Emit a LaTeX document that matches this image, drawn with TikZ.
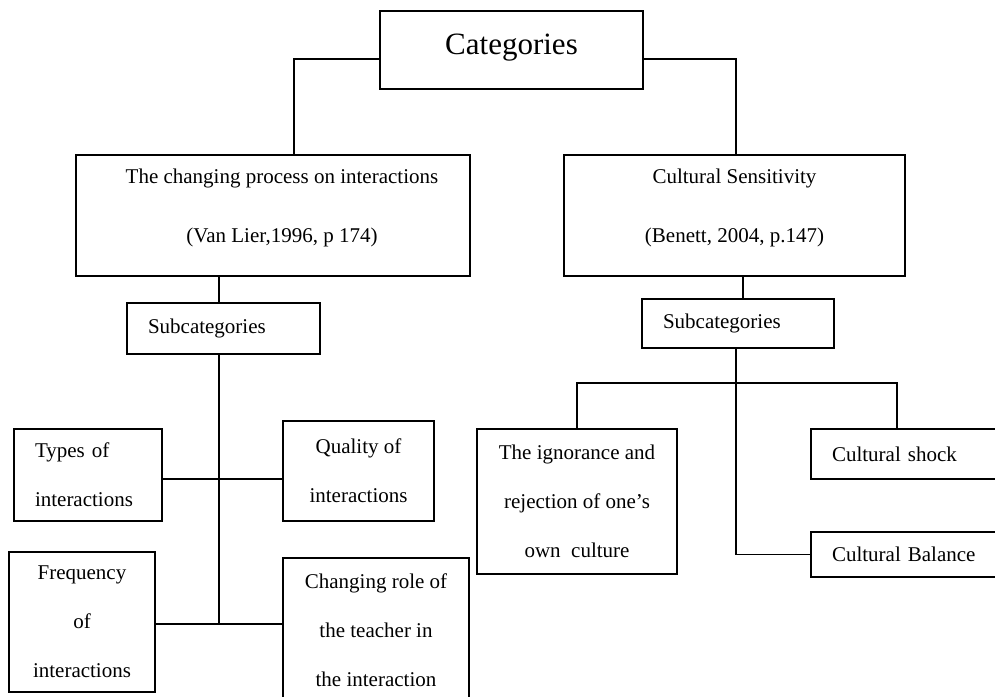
\documentclass[tikz,border=0pt]{standalone}
\usepackage{fontspec}
\setmainfont{Liberation Serif}

\begin{document}
\begin{tikzpicture}[x=1pt, y=-1pt, line width=1.6pt,
    box/.style={draw, inner sep=0pt, align=center, font=\fontsize{21}{49}\selectfont},
    leftbox/.style={draw, inner ysep=0pt, inner xsep=21pt, align=left, font=\fontsize{21}{49}\selectfont}]
  \useasboundingbox (0,0) rectangle (995,696);
  \clip (0,0) rectangle (995,696);
  % categories
  \node[box, minimum width=263pt, minimum height=78pt, text depth=12pt, font=\fontsize{31}{37}\selectfont] (cat) at (511.5,50) {Categories};
  \coordinate (catL) at ([yshift=-9pt]cat.west);
  \coordinate (catR) at ([yshift=-9pt]cat.east);
  % two main categories
  \node[box, minimum width=394pt, minimum height=121pt, text depth=19pt, font=\fontsize{21}{59}\selectfont] (proc) at (273,215.5)
        {\hspace*{18pt}The changing process on interactions\\\hspace*{18pt}(Van Lier,1996, p 174)};
  \node[box, minimum width=341pt, minimum height=121pt, text depth=19pt, font=\fontsize{21}{59}\selectfont] (sens) at (734.5,215.5)
        {Cultural Sensitivity\\(Benett, 2004, p.147)};
  \draw (catL) -| ([xshift=21pt]proc.north);
  \draw (catR) -| ([xshift=1.5pt]sens.north);
  % left subcategories
  \node[leftbox, text width=151pt, minimum height=51pt] (subL) at (223.5,328.5) {Subcategories};
  \coordinate (spineA) at (219,479);
  \coordinate (spineB) at (219,624);
  \draw (proc.south -| spineA) -- (subL.north -| spineA);
  \draw (subL.south -| spineA) -- (spineB);
  \node[leftbox, text width=106pt, minimum height=92pt] (types) at (88,475) {Types of\\interactions};
  \node[box, minimum width=151pt, minimum height=100pt] (quality) at (358.5,471) {Quality of\\interactions};
  \node[box, minimum width=146pt, minimum height=140pt] (freq) at (82,622) {Frequency\\of\\interactions};
  \node[box, minimum width=186pt, minimum height=144pt] (role) at (376,630) {Changing role of\\the teacher in\\the interaction};
  \draw (types.east |- spineA) -- (quality.west |- spineA);
  \draw (freq.east |- spineB) -- (role.west |- spineB);
  % right subcategories
  \node[leftbox, text width=150pt, minimum height=49pt] (subR) at (738,323.5) {Subcategories};
  \draw ([xshift=5pt]subR.north) -- ([xshift=5pt]subR.north |- sens.south);
  \coordinate (barM) at (736,383);
  \coordinate (barR) at (897,383);
  \node[box, minimum width=200pt, minimum height=145pt] (ign) at (577,501.5) {The ignorance and\\rejection of one’s\\own~~culture};
  \node[leftbox, text width=152pt, minimum height=50pt] (shock) at (908,454) {Cultural shock};
  \node[leftbox, text width=152pt, minimum height=45pt] (bal) at (908,554.5) {Cultural Balance};
  \draw (ign.north) |- (barR) -- (barR |- shock.north);
  \draw (subR.south -| barM) |- (bal.west);
\end{tikzpicture}
\end{document}
